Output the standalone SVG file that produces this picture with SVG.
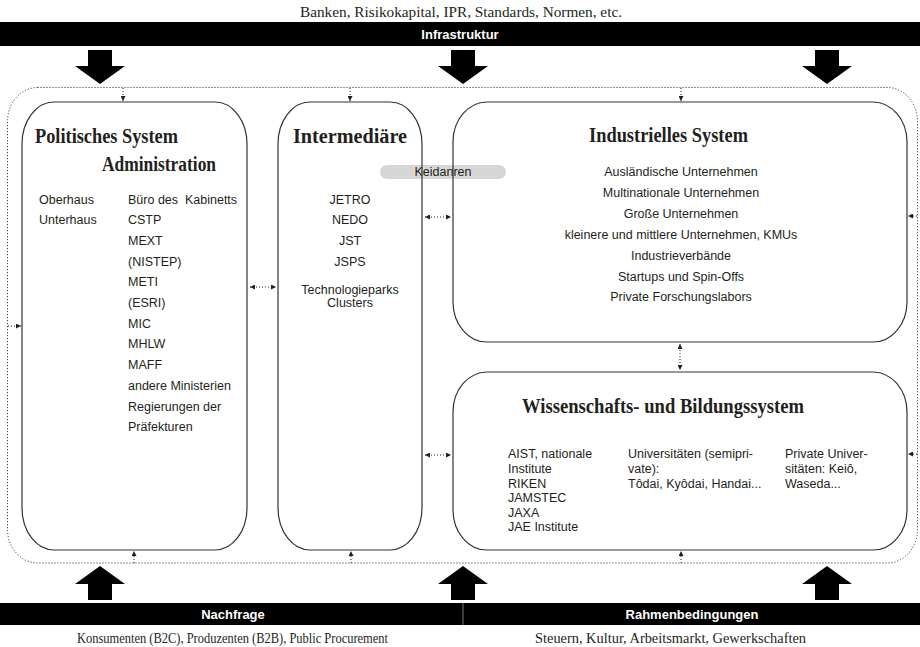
<svg xmlns="http://www.w3.org/2000/svg" width="920" height="647" viewBox="0 0 920 647">
<style>
.sans{font-family:"Liberation Sans",Arial,sans-serif;font-size:12.5px;fill:#231f20}
.serif{font-family:"Liberation Serif","Times New Roman",serif;fill:#231f20}
.title{font-family:"Liberation Serif","Times New Roman",serif;font-weight:bold;font-size:20px;fill:#231f20}
.bartxt{font-family:"Liberation Sans",Arial,sans-serif;font-weight:bold;font-size:13px;fill:#fff}
.box{fill:none;stroke:#333;stroke-width:1.2}
.dot{fill:none;stroke:#231f20;stroke-width:1;stroke-dasharray:1 2}
.c{text-anchor:middle}
</style>
<defs>
<marker id="ah" viewBox="0 0 10 10" refX="10" refY="5" markerWidth="5" markerHeight="5" orient="auto-start-reverse" markerUnits="userSpaceOnUse">
<path d="M0,0 L10,5 L0,10 z" fill="#231f20"/>
</marker>
<path id="down" d="M-12,0 H12 V16 H25 L0,34 L-25,16 H-12 Z" fill="#000"/>
</defs>
<rect width="920" height="647" fill="#fff"/>

<g id="infrastruktur">
<text class="serif" x="300" y="17" font-size="14" textLength="322" lengthAdjust="spacingAndGlyphs">Banken, Risikokapital, IPR, Standards, Normen, etc.</text>
<rect x="0" y="22" width="920" height="24" fill="#000"/>
<text class="bartxt c" x="460" y="38.5">Infrastruktur</text>
<use href="#down" x="100" y="50"/>
<use href="#down" x="463" y="50"/>
<use href="#down" x="827" y="50"/>
</g>

<g id="frame">
<rect class="dot" x="7.5" y="87.5" width="910" height="475.5" rx="30" ry="34"/>
</g>

<g id="keidanren">
<rect x="380" y="165" width="126" height="14" rx="7" fill="#d6d6d6"/>
<text class="sans c" x="443" y="176" font-size="12" fill="#333">Keidanren</text>
</g>

<g id="politisches-system">
<rect class="box" x="22" y="102" width="225" height="448" rx="32" ry="42"/>
<text class="title" x="35" y="143" textLength="143" lengthAdjust="spacingAndGlyphs">Politisches System</text>
<text class="title" x="102" y="171" font-size="17" textLength="114" lengthAdjust="spacingAndGlyphs">Administration</text>
<text class="sans" x="39" y="203.5">Oberhaus</text>
<text class="sans" x="39" y="224.2">Unterhaus</text>
<text class="sans" x="128" y="203.5" style="white-space:pre">Büro des  Kabinetts</text>
<text class="sans" x="128" y="224.2">CSTP</text>
<text class="sans" x="128" y="244.9">MEXT</text>
<text class="sans" x="128" y="265.6">(NISTEP)</text>
<text class="sans" x="128" y="286.3">METI</text>
<text class="sans" x="128" y="307">(ESRI)</text>
<text class="sans" x="128" y="327.7">MIC</text>
<text class="sans" x="128" y="348.4">MHLW</text>
<text class="sans" x="128" y="369.1">MAFF</text>
<text class="sans" x="128" y="389.8">andere Ministerien</text>
<text class="sans" x="128" y="410.5">Regierungen der</text>
<text class="sans" x="128" y="431.2">Präfekturen</text>
</g>

<g id="intermediaere">
<rect class="box" x="278" y="102" width="144" height="448" rx="32" ry="42"/>
<text class="title c" x="350" y="143" textLength="114" lengthAdjust="spacingAndGlyphs">Intermediäre</text>
<text class="sans c" x="350" y="203.5">JETRO</text>
<text class="sans c" x="350" y="224.2">NEDO</text>
<text class="sans c" x="350" y="244.9">JST</text>
<text class="sans c" x="350" y="265.6">JSPS</text>
<text class="sans c" x="350" y="293.5">Technologieparks</text>
<text class="sans c" x="350" y="306.5">Clusters</text>
</g>

<g id="industrielles-system">
<rect class="box" x="453" y="102" width="454" height="240" rx="34" ry="40"/>
<text class="title" x="589" y="142" textLength="159" lengthAdjust="spacingAndGlyphs">Industrielles System</text>
<text class="sans c" x="681" y="176">Ausländische Unternehmen</text>
<text class="sans c" x="681" y="197">Multinationale Unternehmen</text>
<text class="sans c" x="681" y="218">Große Unternehmen</text>
<text class="sans c" x="681" y="239">kleinere und mittlere Unternehmen, KMUs</text>
<text class="sans c" x="681" y="260">Industrieverbände</text>
<text class="sans c" x="681" y="280.5">Startups und Spin-Offs</text>
<text class="sans c" x="681" y="301">Private Forschungslabors</text>
</g>

<g id="wissenschaftssystem">
<rect class="box" x="453" y="372" width="454" height="178" rx="34" ry="40"/>
<text class="title" x="522" y="413" textLength="282" lengthAdjust="spacingAndGlyphs">Wissenschafts- und Bildungssystem</text>
<text class="sans" x="508" y="458.3">AIST, nationale</text>
<text class="sans" x="508" y="473">Institute</text>
<text class="sans" x="508" y="487.6">RIKEN</text>
<text class="sans" x="508" y="502.2">JAMSTEC</text>
<text class="sans" x="508" y="516.8">JAXA</text>
<text class="sans" x="508" y="531.4">JAE Institute</text>
<text class="sans" x="628" y="458.3">Universitäten (semipri-</text>
<text class="sans" x="628" y="473">vate):</text>
<text class="sans" x="628" y="487.6">Tôdai, Kyôdai, Handai...</text>
<text class="sans" x="785" y="458.3">Private Univer-</text>
<text class="sans" x="785" y="473">sitäten: Keiô,</text>
<text class="sans" x="785" y="487.6">Waseda...</text>
</g>

<g id="connectors">
<line class="dot" x1="123" y1="88" x2="123" y2="101" marker-end="url(#ah)"/>
<line class="dot" x1="350" y1="88" x2="350" y2="101" marker-end="url(#ah)"/>
<line class="dot" x1="681" y1="88" x2="681" y2="101" marker-end="url(#ah)"/>
<line class="dot" x1="134" y1="563" x2="134" y2="551" marker-end="url(#ah)"/>
<line class="dot" x1="351" y1="563" x2="351" y2="551" marker-end="url(#ah)"/>
<line class="dot" x1="681" y1="563" x2="681" y2="551" marker-end="url(#ah)"/>
<line class="dot" x1="8" y1="326" x2="21" y2="326" marker-end="url(#ah)"/>
<line class="dot" x1="917" y1="216" x2="908" y2="216" marker-end="url(#ah)"/>
<line class="dot" x1="917" y1="454" x2="908" y2="454" marker-end="url(#ah)"/>
<line class="dot" x1="250" y1="287" x2="276" y2="287" marker-start="url(#ah)" marker-end="url(#ah)"/>
<line class="dot" x1="425" y1="217" x2="451" y2="217" marker-start="url(#ah)" marker-end="url(#ah)"/>
<line class="dot" x1="425" y1="455" x2="451" y2="455" marker-start="url(#ah)" marker-end="url(#ah)"/>
<line class="dot" x1="680" y1="344" x2="680" y2="370" marker-start="url(#ah)" marker-end="url(#ah)"/>
</g>

<g id="nachfrage-rahmen">
<use href="#down" transform="translate(100,600) scale(1,-1)"/>
<use href="#down" transform="translate(463,600) scale(1,-1)"/>
<use href="#down" transform="translate(827,600) scale(1,-1)"/>
<rect x="0" y="603" width="920" height="22" fill="#000"/>
<line x1="463" y1="603" x2="463" y2="625" stroke="#777" stroke-width="1"/>
<text class="bartxt c" x="233" y="618.5">Nachfrage</text>
<text class="bartxt c" x="692" y="618.5">Rahmenbedingungen</text>
<text class="serif" x="77" y="643" font-size="14" textLength="311" lengthAdjust="spacingAndGlyphs">Konsumenten (B2C), Produzenten (B2B), Public Procurement</text>
<text class="serif" x="535" y="643" font-size="14" textLength="271" lengthAdjust="spacingAndGlyphs">Steuern, Kultur, Arbeitsmarkt, Gewerkschaften</text>
</g>
</svg>
